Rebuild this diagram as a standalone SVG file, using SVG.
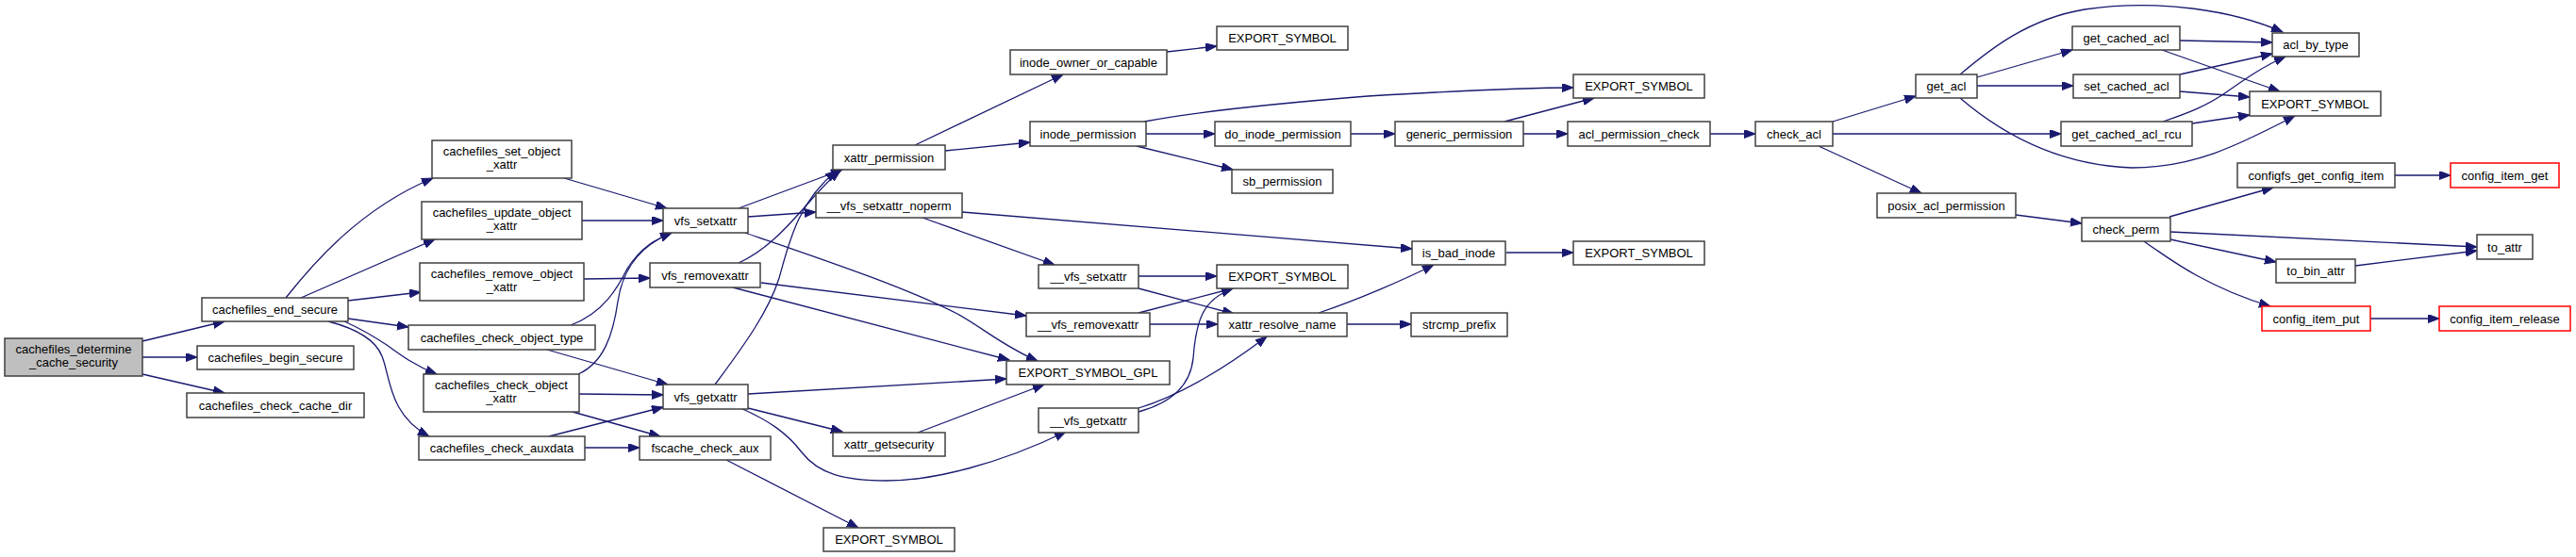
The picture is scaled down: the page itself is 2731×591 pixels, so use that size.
<svg xmlns="http://www.w3.org/2000/svg" width="2731" height="591" viewBox="0 0 2731 591">
<style>
.n rect{fill:#ffffff;stroke:#404040;stroke-width:1.5}
.n.root rect{fill:#bfbfbf}
.n.red rect{stroke:#ff0000}
.n text{font-family:"Liberation Sans",Arial,sans-serif;font-size:13px;fill:#000;text-anchor:middle}
.e path{fill:none;stroke:#191970;stroke-width:1.3;marker-end:url(#arr)}
</style>
<defs>
<marker id="arr" markerUnits="userSpaceOnUse" markerWidth="13" markerHeight="10" refX="12" refY="4.5" orient="auto">
<path d="M0,0 L12,4.5 L0,9 z" fill="#191970" stroke="#191970" stroke-width="1"/>
</marker>
</defs>
<rect width="2731" height="591" fill="#ffffff"/>
<g id="edges" class="e">
<path d="M151,362 L238,341"/>
<path d="M151,379 L209,379"/>
<path d="M151,397 L238,417"/>
<path d="M303,316 C330,282 380,222 459,189"/>
<path d="M319,316 L461,254"/>
<path d="M369,319 L446,310"/>
<path d="M369,338 L433,347"/>
<path d="M365,341 C385,350 395,356 410,366 C425,377 440,388 463,397"/>
<path d="M348,341 C375,348 398,360 405,378 C414,400 412,440 455,463"/>
<path d="M598,189 L707,221"/>
<path d="M617,234 L703,234"/>
<path d="M619,296 L689,295"/>
<path d="M605,345 C640,332 655,305 665,285 C680,262 695,254 712,247"/>
<path d="M613,397 C640,385 650,355 655,320 C660,285 680,260 712,247"/>
<path d="M614,418 L703,419"/>
<path d="M607,437 L700,463"/>
<path d="M582,463 L703,432"/>
<path d="M620,475 L678,475"/>
<path d="M580,371 L708,408"/>
<path d="M783,221 L893,180"/>
<path d="M793,230 L865,225"/>
<path d="M790,247 C880,278 960,305 1015,333 C1045,350 1065,368 1100,383"/>
<path d="M783,279 C830,258 860,205 891,181"/>
<path d="M758,408 C790,365 815,330 826,295 C836,260 845,215 887,181"/>
<path d="M807,300 L1088,335"/>
<path d="M777,305 L1070,382"/>
<path d="M793,418 L1067,402"/>
<path d="M793,433 L893,458"/>
<path d="M785,433 C815,446 835,460 850,480 C868,503 895,510 940,510 C990,510 1060,492 1130,458"/>
<path d="M770,488 L910,560"/>
<path d="M973,459 L1107,408"/>
<path d="M970,154 L1127,79"/>
<path d="M1002,160 L1092,151"/>
<path d="M1020,225 L1497,264"/>
<path d="M978,231 L1118,281"/>
<path d="M1237,55 L1290,49"/>
<path d="M1213,129 C1260,120 1350,110 1450,102 C1550,96 1620,93 1668,93"/>
<path d="M1215,142 L1288,142"/>
<path d="M1205,155 L1307,180"/>
<path d="M1207,293 L1290,293"/>
<path d="M1207,306 L1308,333"/>
<path d="M1207,332 L1307,306"/>
<path d="M1219,344 L1291,344"/>
<path d="M1207,437 C1240,428 1262,410 1265,380 C1268,340 1275,318 1307,306"/>
<path d="M1207,433 C1250,420 1300,390 1343,357"/>
<path d="M1398,332 C1440,318 1490,296 1520,281"/>
<path d="M1428,344 L1496,344"/>
<path d="M1597,268 L1668,268"/>
<path d="M1432,142 L1479,142"/>
<path d="M1595,129 L1690,104"/>
<path d="M1615,142 L1662,142"/>
<path d="M1813,142 L1861,142"/>
<path d="M1943,129 L2031,102"/>
<path d="M1943,142 L2185,142"/>
<path d="M1928,155 L2037,205"/>
<path d="M2078,79 C2110,52 2150,20 2210,10 C2290,-2 2370,12 2420,34"/>
<path d="M2096,82 L2197,53"/>
<path d="M2096,91 L2198,91"/>
<path d="M2078,104 C2120,140 2180,175 2260,178 C2330,178 2380,150 2433,123"/>
<path d="M2311,43 L2409,45"/>
<path d="M2292,53 L2417,97"/>
<path d="M2311,79 L2409,57"/>
<path d="M2311,97 L2385,103"/>
<path d="M2293,129 C2320,120 2340,112 2360,98 C2380,84 2400,70 2423,60"/>
<path d="M2324,131 L2385,122"/>
<path d="M2137,228 L2207,237"/>
<path d="M2300,230 L2410,199"/>
<path d="M2301,246 L2626,262"/>
<path d="M2301,254 L2413,278"/>
<path d="M2273,256 C2300,275 2340,305 2407,325"/>
<path d="M2539,186 L2598,186"/>
<path d="M2497,282 L2626,266"/>
<path d="M2513,338 L2586,338"/>
</g>
<g id="n0" class="n root"><rect x="5" y="359" width="146" height="40"/><text x="78" y="375">cachefiles_determine</text><text x="78" y="389">_cache_security</text></g>
<g id="n1" class="n"><rect x="214" y="316" width="155" height="25"/><text x="291.5" y="333">cachefiles_end_secure</text></g>
<g id="n2" class="n"><rect x="209" y="367" width="166" height="25"/><text x="292" y="384">cachefiles_begin_secure</text></g>
<g id="n3" class="n"><rect x="198" y="417" width="188" height="26"/><text x="292" y="434.5">cachefiles_check_cache_dir</text></g>
<g id="n4" class="n"><rect x="458" y="149" width="148" height="40"/><text x="532" y="165">cachefiles_set_object</text><text x="532" y="179">_xattr</text></g>
<g id="n5" class="n"><rect x="447" y="214" width="170" height="40"/><text x="532" y="230">cachefiles_update_object</text><text x="532" y="244">_xattr</text></g>
<g id="n6" class="n"><rect x="445" y="279" width="174" height="40"/><text x="532" y="295">cachefiles_remove_object</text><text x="532" y="309">_xattr</text></g>
<g id="n7" class="n"><rect x="433" y="345" width="198" height="26"/><text x="532" y="362.5">cachefiles_check_object_type</text></g>
<g id="n8" class="n"><rect x="449" y="397" width="165" height="40"/><text x="531.5" y="413">cachefiles_check_object</text><text x="531.5" y="427">_xattr</text></g>
<g id="n9" class="n"><rect x="444" y="463" width="176" height="25"/><text x="532" y="480">cachefiles_check_auxdata</text></g>
<g id="n10" class="n"><rect x="703" y="221" width="90" height="26"/><text x="748" y="238.5">vfs_setxattr</text></g>
<g id="n11" class="n"><rect x="689" y="279" width="117" height="26"/><text x="747.5" y="296.5">vfs_removexattr</text></g>
<g id="n12" class="n"><rect x="703" y="408" width="90" height="26"/><text x="748" y="425.5">vfs_getxattr</text></g>
<g id="n13" class="n"><rect x="678" y="463" width="139" height="25"/><text x="747.5" y="480">fscache_check_aux</text></g>
<g id="n14" class="n"><rect x="883" y="154" width="119" height="26"/><text x="942.5" y="171.5">xattr_permission</text></g>
<g id="n15" class="n"><rect x="865" y="205" width="155" height="26"/><text x="942.5" y="222.5">__vfs_setxattr_noperm</text></g>
<g id="n16" class="n"><rect x="883" y="459" width="119" height="25"/><text x="942.5" y="476">xattr_getsecurity</text></g>
<g id="n17" class="n"><rect x="873" y="560" width="139" height="25"/><text x="942.5" y="577">EXPORT_SYMBOL</text></g>
<g id="n18" class="n"><rect x="1071" y="53" width="166" height="26"/><text x="1154" y="70.5">inode_owner_or_capable</text></g>
<g id="n19" class="n"><rect x="1092" y="129" width="123" height="26"/><text x="1153.5" y="146.5">inode_permission</text></g>
<g id="n20" class="n"><rect x="1101" y="281" width="106" height="25"/><text x="1154" y="298">__vfs_setxattr</text></g>
<g id="n21" class="n"><rect x="1088" y="332" width="131" height="25"/><text x="1153.5" y="349">__vfs_removexattr</text></g>
<g id="n22" class="n"><rect x="1067" y="383" width="173" height="25"/><text x="1153.5" y="400">EXPORT_SYMBOL_GPL</text></g>
<g id="n23" class="n"><rect x="1101" y="433" width="106" height="26"/><text x="1154" y="450.5">__vfs_getxattr</text></g>
<g id="n24" class="n"><rect x="1290" y="28" width="139" height="25"/><text x="1359.5" y="45">EXPORT_SYMBOL</text></g>
<g id="n25" class="n"><rect x="1288" y="129" width="144" height="26"/><text x="1360" y="146.5">do_inode_permission</text></g>
<g id="n26" class="n"><rect x="1306" y="180" width="107" height="25"/><text x="1359.5" y="197">sb_permission</text></g>
<g id="n27" class="n"><rect x="1290" y="281" width="139" height="25"/><text x="1359.5" y="298">EXPORT_SYMBOL</text></g>
<g id="n28" class="n"><rect x="1291" y="332" width="137" height="25"/><text x="1359.5" y="349">xattr_resolve_name</text></g>
<g id="n29" class="n"><rect x="1668" y="79" width="139" height="25"/><text x="1737.5" y="96">EXPORT_SYMBOL</text></g>
<g id="n30" class="n"><rect x="1479" y="129" width="136" height="26"/><text x="1547" y="146.5">generic_permission</text></g>
<g id="n31" class="n"><rect x="1662" y="129" width="151" height="26"/><text x="1737.5" y="146.5">acl_permission_check</text></g>
<g id="n32" class="n"><rect x="1497" y="256" width="99" height="25"/><text x="1546.5" y="273">is_bad_inode</text></g>
<g id="n33" class="n"><rect x="1668" y="256" width="139" height="25"/><text x="1737.5" y="273">EXPORT_SYMBOL</text></g>
<g id="n34" class="n"><rect x="1496" y="332" width="102" height="25"/><text x="1547" y="349">strcmp_prefix</text></g>
<g id="n35" class="n"><rect x="1861" y="129" width="82" height="26"/><text x="1902" y="146.5">check_acl</text></g>
<g id="n36" class="n"><rect x="2031" y="79" width="65" height="25"/><text x="2063.5" y="96">get_acl</text></g>
<g id="n37" class="n"><rect x="1990" y="205" width="147" height="26"/><text x="2063.5" y="222.5">posix_acl_permission</text></g>
<g id="n38" class="n"><rect x="2197" y="28" width="114" height="25"/><text x="2254" y="45">get_cached_acl</text></g>
<g id="n39" class="n"><rect x="2198" y="79" width="113" height="25"/><text x="2254.5" y="96">set_cached_acl</text></g>
<g id="n40" class="n"><rect x="2185" y="129" width="139" height="26"/><text x="2254.5" y="146.5">get_cached_acl_rcu</text></g>
<g id="n41" class="n"><rect x="2207" y="231" width="94" height="25"/><text x="2254" y="248">check_perm</text></g>
<g id="n42" class="n"><rect x="2409" y="35" width="92" height="25"/><text x="2455" y="52">acl_by_type</text></g>
<g id="n43" class="n"><rect x="2385" y="97" width="139" height="26"/><text x="2454.5" y="114.5">EXPORT_SYMBOL</text></g>
<g id="n44" class="n"><rect x="2372" y="173" width="167" height="26"/><text x="2455.5" y="190.5">configfs_get_config_item</text></g>
<g id="n45" class="n red"><rect x="2598" y="173" width="115" height="26"/><text x="2655.5" y="190.5">config_item_get</text></g>
<g id="n46" class="n"><rect x="2626" y="249" width="59" height="26"/><text x="2655.5" y="266.5">to_attr</text></g>
<g id="n47" class="n"><rect x="2413" y="275" width="84" height="25"/><text x="2455" y="292">to_bin_attr</text></g>
<g id="n48" class="n red"><rect x="2398" y="325" width="115" height="26"/><text x="2455.5" y="342.5">config_item_put</text></g>
<g id="n49" class="n red"><rect x="2586" y="325" width="139" height="26"/><text x="2655.5" y="342.5">config_item_release</text></g>
</svg>
